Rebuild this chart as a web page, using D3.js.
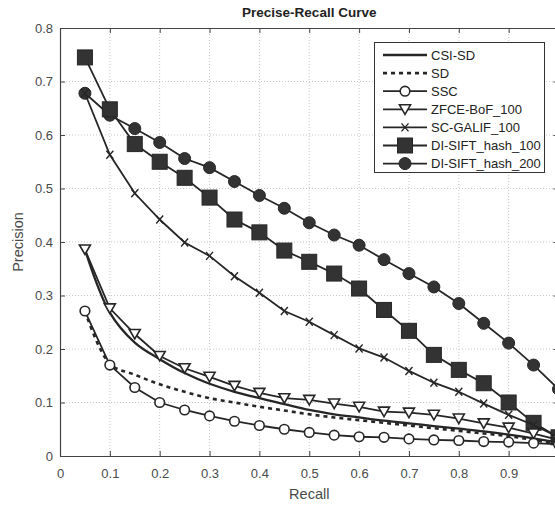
<!DOCTYPE html>
<html>
<head>
<meta charset="utf-8">
<title>Precise-Recall Curve</title>
<script src="https://d3js.org/d3.v7.min.js"></script>
<style>
  body { margin: 0; background: #fff; }
  svg { display: block; font-family: "Liberation Sans", Arial, sans-serif; }
</style>
</head>
<body>
<svg width="555" height="506"></svg>
<script>
// recall points (x)
var recall = [0.05, 0.10, 0.15, 0.20, 0.25, 0.30, 0.35, 0.40, 0.45, 0.50,
              0.55, 0.60, 0.65, 0.70, 0.75, 0.80, 0.85, 0.90, 0.95, 1.00];

// precision values
var csiSD   = [0.386, 0.268, 0.212, 0.181, 0.155, 0.135, 0.120, 0.108, 0.097, 0.086,
               0.078, 0.072, 0.066, 0.061, 0.056, 0.051, 0.046, 0.040, 0.033, 0.025];
var sd      = [0.271, 0.172, 0.152, 0.134, 0.120, 0.108, 0.100, 0.092, 0.085, 0.078,
               0.072, 0.067, 0.062, 0.057, 0.052, 0.047, 0.042, 0.037, 0.030, 0.022];
var ssc     = [0.271, 0.170, 0.128, 0.100, 0.086, 0.075, 0.065, 0.057, 0.050, 0.044,
               0.039, 0.036, 0.035, 0.032, 0.030, 0.029, 0.027, 0.026, 0.024, 0.022];
var zfce    = [0.386, 0.276, 0.228, 0.187, 0.164, 0.148, 0.131, 0.118, 0.108, 0.105,
               0.098, 0.092, 0.083, 0.081, 0.077, 0.070, 0.061, 0.053, 0.042, 0.030];
var scGalif = [0.678, 0.563, 0.491, 0.442, 0.399, 0.374, 0.336, 0.305, 0.271, 0.251,
               0.226, 0.201, 0.184, 0.159, 0.137, 0.120, 0.098, 0.077, 0.058, 0.035];
var hash100 = [0.745, 0.648, 0.583, 0.550, 0.520, 0.483, 0.442, 0.418, 0.384, 0.363,
               0.341, 0.313, 0.273, 0.234, 0.189, 0.161, 0.136, 0.100, 0.062, 0.035];
var hash200 = [0.678, 0.637, 0.612, 0.586, 0.556, 0.539, 0.513, 0.487, 0.463, 0.436,
               0.413, 0.394, 0.367, 0.341, 0.316, 0.285, 0.248, 0.211, 0.170, 0.125];

var seriesNames = ["CSI-SD", "SD", "SSC", "ZFCE-BoF_100", "SC-GALIF_100", "DI-SIFT_hash_100", "DI-SIFT_hash_200"];
var seriesMarkers = ["none", "none", "opencircle", "triangle", "cross", "square", "circle"];

var xTicks = [0, 0.1, 0.2, 0.3, 0.4, 0.5, 0.6, 0.7, 0.8, 0.9, 1];
var yTicks = [0, 0.1, 0.2, 0.3, 0.4, 0.5, 0.6, 0.7, 0.8];

var titleText = "Precise-Recall Curve";
var xLabel = "Recall";
var yLabel = "Precision";

var pLeft = 60, pRight = 558.5, pTop = 28, pBottom = 456;
var lineCol = "#262626";
var axisCol = "#444";
var textCol = "#4a4a4a";

var svg = d3.select("svg");

var x = d3.scaleLinear().domain([0, 1]).range([pLeft, pRight]);
var y = d3.scaleLinear().domain([0, 0.8]).range([pBottom, pTop]);

var fmt = function(d) { return d === 0 ? "0" : (d === 1 ? "1" : d3.format(".1f")(d)); };

// grid
var grid = svg.append("g");
grid.selectAll(".gx").data(xTicks.slice(1, -1)).enter().append("line")
  .attr("x1", function(d) { return x(d); }).attr("x2", function(d) { return x(d); })
  .attr("y1", pTop).attr("y2", pBottom)
  .attr("stroke", "#c8c8c8").attr("stroke-dasharray", "1,2").attr("stroke-width", 1);
grid.selectAll(".gy").data(yTicks.slice(1, -1)).enter().append("line")
  .attr("y1", function(d) { return y(d); }).attr("y2", function(d) { return y(d); })
  .attr("x1", pLeft).attr("x2", pRight)
  .attr("stroke", "#c8c8c8").attr("stroke-dasharray", "1,2").attr("stroke-width", 1);

// axes (ticks pointing inward)
function styleAxis(g) {
  g.select(".domain").attr("stroke", axisCol).attr("stroke-width", 1.2);
  g.selectAll(".tick line").attr("stroke", axisCol);
  g.selectAll(".tick text").attr("fill", textCol).style("font-size", "13px")
    .style("font-family", "'Liberation Sans', Arial, sans-serif");
}
svg.append("g").attr("transform", "translate(0," + pBottom + ")")
  .call(d3.axisBottom(x).tickValues(xTicks).tickFormat(fmt).tickSizeInner(-5).tickSizeOuter(0).tickPadding(13))
  .call(styleAxis);
svg.append("g").attr("transform", "translate(0," + pTop + ")")
  .call(d3.axisTop(x).tickValues(xTicks).tickFormat("").tickSizeInner(-5).tickSizeOuter(0))
  .call(styleAxis);
svg.append("g").attr("transform", "translate(" + pLeft + ",0)")
  .call(d3.axisLeft(y).tickValues(yTicks).tickFormat(fmt).tickSizeInner(-5).tickSizeOuter(0).tickPadding(7))
  .call(styleAxis);
svg.append("g").attr("transform", "translate(" + pRight + ",0)")
  .call(d3.axisRight(y).tickValues(yTicks).tickFormat("").tickSizeInner(-5).tickSizeOuter(0))
  .call(styleAxis);

// lines
var allSeries = [csiSD, sd, ssc, zfce, scGalif, hash100, hash200];
var plot = svg.append("g");

var lineSmooth = d3.line().x(function(d, i) { return x(recall[i]); }).y(function(d) { return y(d); })
  .curve(d3.curveCatmullRom.alpha(0.5));
var lineStraight = d3.line().x(function(d, i) { return x(recall[i]); }).y(function(d) { return y(d); });

// draw back to front so the low curves sit on top
var order = [6, 5, 4, 0, 1, 3, 2];
order.forEach(function(k) {
  var vals = allSeries[k];
  var smooth = seriesMarkers[k] === "none";
  plot.append("path")
    .attr("d", (smooth ? lineSmooth : lineStraight)(vals))
    .attr("fill", "none")
    .attr("stroke", lineCol)
    .attr("stroke-width", k === 0 ? 2.3 : (k === 1 ? 2.6 : 1.8))
    .attr("stroke-dasharray", k === 1 ? "4,4" : null);
  plot.selectAll(".m" + k).data(vals).enter().append("g")
    .attr("transform", function(d, i) { return "translate(" + x(recall[i]) + "," + y(d) + ")"; })
    .each(function() { drawMarker(d3.select(this), seriesMarkers[k]); });
});

function drawMarker(g, type) {
  if (type === "square") {
    g.append("rect").attr("x", -7.5).attr("y", -7.5).attr("width", 15).attr("height", 15)
      .attr("fill", "#333").attr("stroke", lineCol);
  } else if (type === "circle") {
    g.append("circle").attr("r", 6).attr("fill", "#333").attr("stroke", lineCol);
  } else if (type === "opencircle") {
    g.append("circle").attr("r", 4.8).attr("fill", "#fff").attr("stroke", lineCol).attr("stroke-width", 1.6);
  } else if (type === "triangle") {
    g.append("path").attr("d", "M-5.5,-4.5L5.5,-4.5L0,5Z")
      .attr("fill", "#fff").attr("stroke", lineCol).attr("stroke-width", 1.6);
  } else if (type === "cross") {
    g.append("path").attr("d", "M-3.5,-4L3.5,4M-3.5,4L3.5,-4")
      .attr("stroke", lineCol).attr("stroke-width", 1.4);
  }
}

// title and labels
svg.append("text").attr("x", (pLeft + pRight) / 2).attr("y", 17)
  .attr("text-anchor", "middle").style("font-weight", "bold").style("font-size", "13.5px")
  .attr("fill", "#222").text(titleText);
svg.append("text").attr("x", (pLeft + pRight) / 2).attr("y", 499)
  .attr("text-anchor", "middle").style("font-size", "14.5px").attr("fill", textCol).text(xLabel);
svg.append("text").attr("transform", "translate(23," + ((pTop + pBottom) / 2) + ") rotate(-90)")
  .attr("text-anchor", "middle").style("font-size", "14.5px").attr("fill", textCol).text(yLabel);

// legend
var lg = svg.append("g");
lg.append("rect").attr("x", 374.5).attr("y", 42.5).attr("width", 170).attr("height", 130)
  .attr("fill", "#fff").attr("stroke", "#333").attr("stroke-width", 1);
seriesNames.forEach(function(name, k) {
  var ry = 55 + k * 18.1;
  lg.append("line").attr("x1", 383).attr("x2", 427).attr("y1", ry).attr("y2", ry)
    .attr("stroke", lineCol).attr("stroke-width", k === 0 ? 2.4 : (k === 1 ? 2.6 : 1.8))
    .attr("stroke-dasharray", k === 1 ? "4,4" : null);
  drawMarker(lg.append("g").attr("transform", "translate(405," + ry + ")"), seriesMarkers[k]);
  lg.append("text").attr("x", 431).attr("y", ry).attr("dy", "0.35em")
    .style("font-size", "13px").attr("fill", "#222").text(name);
});
</script>
</body>
</html>
